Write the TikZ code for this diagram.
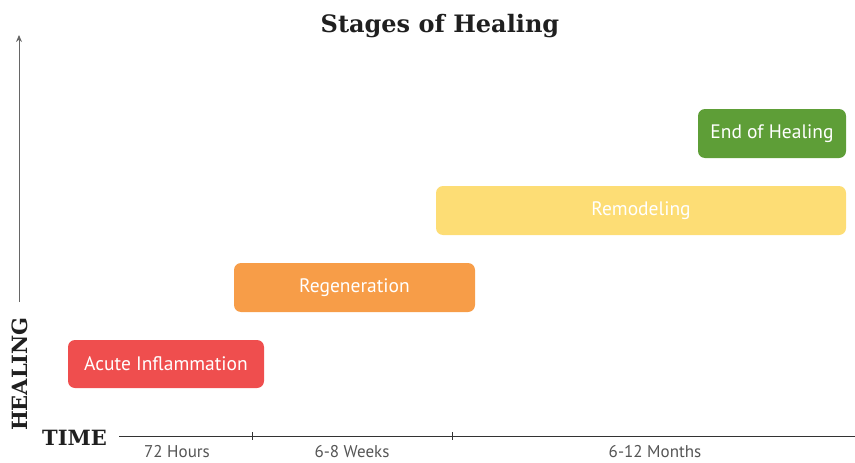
\documentclass[tikz,border=0pt]{standalone}
\usepackage{fontspec}
\setmainfont{DejaVu Serif}
\newfontfamily\boxfont{PT Sans}
\usetikzlibrary{arrows.meta}
\definecolor{cred}{HTML}{EF4E4E}
\definecolor{corange}{HTML}{F79D48}
\definecolor{cyellow}{HTML}{FDDD75}
\definecolor{cgreen}{HTML}{5E9E37}
\definecolor{caxis}{HTML}{333333}
\definecolor{clabel}{HTML}{555555}
\tikzset{
  stage/.style={draw=none, text=white, font=\boxfont\fontsize{19.5}{22}\selectfont, inner sep=0pt},
  axislbl/.style={font=\boxfont\fontsize{17}{19}\selectfont, text=clabel, inner sep=0pt, anchor=base},
  bigserif/.style={font=\bfseries\fontsize{21}{24}\selectfont, text=black!88},
}
\begin{document}
\begin{tikzpicture}[x=1pt,y=-1pt]
\useasboundingbox (0,0) rectangle (855,463);
% title
\node[bigserif, font=\bfseries\fontsize{24}{28}\selectfont] (title) at (440,26) {Stages of Healing};
% vertical axis
\coordinate (vbot) at (19,302);
\coordinate (vtop) at (19,35);
\draw[gray!80!black, line width=1pt, -{Stealth[length=7pt,width=6pt]}] (vbot) -- (vtop);
\node[bigserif, rotate=90] (healing) at (20,374) {HEALING};
% horizontal axis
\node[bigserif, anchor=west, inner sep=0pt] (time) at (42,438) {TIME};
\coordinate (hstart) at (119,436);
\coordinate (hend) at (855,436);
\draw[caxis, line width=0.8pt] (hstart) -- (hend);
\coordinate (t1) at (252,436);
\coordinate (t2) at (452,436);
\draw[caxis, line width=0.6pt] ([yshift=4]t1) -- ([yshift=-4]t1);
\draw[caxis, line width=0.6pt] ([yshift=4]t2) -- ([yshift=-4]t2);
\node[axislbl] (l1) at (177,457.5) {72 Hours};
\node[axislbl] (l2) at (352,457.5) {6-8 Weeks};
\node[axislbl] (l3) at (655,457.5) {6-12 Months};
% stages
\fill[cred, rounded corners=7pt] (68,340) rectangle (264,388);
\node[stage] (s1) at (166,364) {Acute Inflammation};
\fill[corange, rounded corners=7pt] (234,263) rectangle (475,312);
\node[stage] (s2) at (354.5,287.5) {Regeneration};
\fill[cyellow, rounded corners=7pt] (436,186) rectangle (846,235);
\node[stage] (s3) at (641,210.5) {Remodeling};
\fill[cgreen, rounded corners=7pt] (698,109) rectangle (846,158);
\node[stage] (s4) at (772,133.5) {End of Healing};
\end{tikzpicture}
\end{document}
